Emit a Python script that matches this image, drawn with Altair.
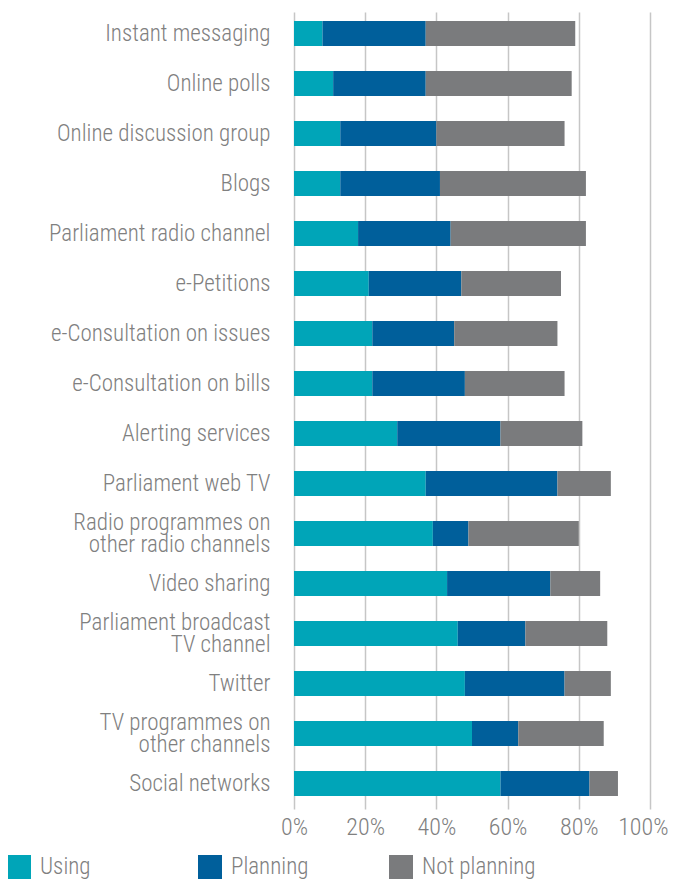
import altair as alt
import pandas as pd

categories = [
    "Instant messaging",
    "Online polls",
    "Online discussion group",
    "Blogs",
    "Parliament radio channel",
    "e-Petitions",
    "e-Consultation on issues",
    "e-Consultation on bills",
    "Alerting services",
    "Parliament web TV",
    "Radio programmes on|other radio channels",
    "Video sharing",
    "Parliament broadcast|TV channel",
    "Twitter",
    "TV programmes on|other channels",
    "Social networks",
]
using = [8, 11, 13, 13, 18, 21, 22, 22, 29, 37, 39, 43, 46, 48, 50, 58]
planning = [29, 26, 27, 28, 26, 26, 23, 26, 29, 37, 10, 29, 19, 28, 13, 25]
not_planning = [42, 41, 36, 41, 38, 28, 29, 28, 23, 15, 31, 14, 23, 13, 24, 8]

series = ["Using", "Planning", "Not planning"]
colors = ["#00a5b8", "#005f9b", "#7a7b7d"]
tick_values = [0, 20, 40, 60, 80, 100]

rows = []
for i, cat in enumerate(categories):
    for j, (name, vals) in enumerate(zip(series, [using, planning, not_planning])):
        rows.append({"category": cat, "status": name, "value": vals[i], "order": j})
df = pd.DataFrame(rows)

FONT = "Roboto Condensed, Liberation Sans Narrow, DejaVu Sans Condensed, sans-serif"
GRAY = "#808080"

chart = (
    alt.Chart(df)
    .mark_bar()
    .encode(
        x=alt.X(
            "value:Q",
            stack="zero",
            scale=alt.Scale(domain=[0, 100], nice=False),
            axis=alt.Axis(
                values=tick_values,
                labelExpr="datum.value + '%'",
                title=None,
                domain=False,
                ticks=False,
                grid=True,
                gridColor="#c6c6c6",
                gridWidth=1.5,
                labelFlush=False,
                labelAlign={
                    "condition": {"test": "datum.value == 100", "value": "right"},
                    "value": "center",
                },
                labelOffset={
                    "condition": {"test": "datum.value == 100", "value": 18},
                    "value": 0,
                },
                labelFont=FONT,
                labelFontSize=24,
                labelFontWeight=300,
                labelColor=GRAY,
                labelPadding=6,
            ),
        ),
        y=alt.Y(
            "category:N",
            sort=categories,
            scale=alt.Scale(paddingInner=0.5, paddingOuter=0.22, align=0.41),
            axis=alt.Axis(
                title=None,
                domain=False,
                ticks=False,
                grid=False,
                labelExpr="split(datum.label, '|')",
                labelOffset={
                    "condition": {"test": "indexof(datum.value, '|') >= 0", "value": -11},
                    "value": 0,
                },
                labelFont=FONT,
                labelFontSize=23,
                labelFontWeight=300,
                labelColor=GRAY,
                labelPadding=24,
                labelLineHeight=22,
                labelLimit=300,
            ),
        ),
        color=alt.Color(
            "status:N",
            scale=alt.Scale(domain=series, range=colors),
            legend=alt.Legend(
                title=None,
                orient="none",
                legendX=-287,
                legendY=843,
                direction="horizontal",
                columns=3,
                gridAlign="all",
                columnPadding=44,
                symbolType="square",
                symbolSize=576,
                symbolStrokeWidth=0,
                symbolOpacity=1,
                labelFont=FONT,
                labelFontSize=23,
                labelFontWeight=300,
                labelColor=GRAY,
                labelOffset=9,
            ),
        ),
        order=alt.Order("order:Q", sort="ascending"),
    )
    .properties(
        width=356,
        height=797,
        autosize=alt.AutoSizeParams(type="none"),
        padding={"left": 286, "top": 4, "right": 19, "bottom": 75},
    )
    .configure_view(stroke=None)
)

chart.save("out.html", embed_options={"renderer": "svg", "actions": False})
